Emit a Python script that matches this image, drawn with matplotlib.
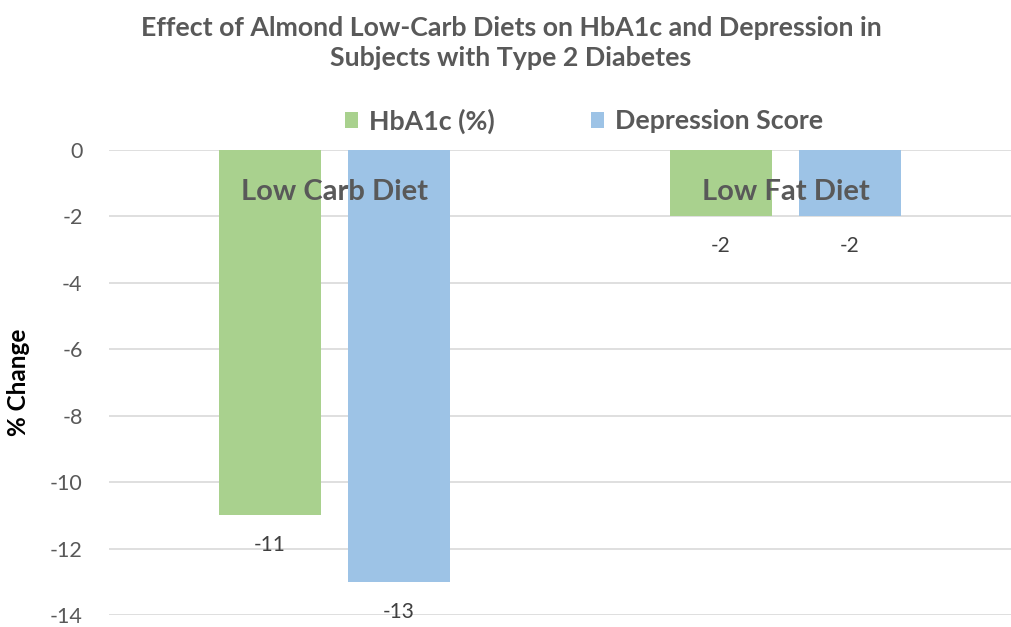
import matplotlib
matplotlib.use("Agg")
import matplotlib.pyplot as plt
import numpy as np

# Data
categories = ["Low Carb Diet", "Low Fat Diet"]
series_names = ["HbA1c (%)", "Depression Score"]
hba1c = [-11, -2]
depression = [-13, -2]
yticks = [0, -2, -4, -6, -8, -10, -12, -14]

plt.rcParams["font.family"] = ["Lato", "DejaVu Sans"]

fig = plt.figure(figsize=(10.12, 6.27), dpi=100)
ax = fig.add_axes([109 / 1012, 12 / 627, 902 / 1012, 465 / 627])

green = "#A9D18E"
blue = "#9DC3E6"
grey = "#595959"

x = np.arange(len(categories))
width = 0.224
offset = 0.143

b1 = ax.bar(x - offset, hba1c, width, color=green, label=series_names[0], zorder=2)
b2 = ax.bar(x + offset, depression, width, color=blue, label=series_names[1], zorder=2)

ax.set_xlim(-0.5, 1.5)
ax.set_ylim(-14, 0)
ax.set_yticks(yticks)
ax.set_yticklabels([str(t) for t in yticks], fontsize=15.5, color=grey)
ax.yaxis.grid(True, color="#D9D9D9", linewidth=1.2, zorder=0)
ax.set_axisbelow(True)
ax.tick_params(axis="y", length=0, pad=19)
ax.set_xticks([])
for s in ax.spines.values():
    s.set_visible(False)

# Category names drawn just under the zero line
for xi, name in zip(x, categories):
    ax.text(xi, -1.25, name, ha="center", va="center", fontsize=21,
            fontweight="bold", color=grey, zorder=3)

# Value labels below each bar end
for bars in (b1, b2):
    for rect in bars:
        v = rect.get_height()
        ax.annotate(f"{v:g}", (rect.get_x() + rect.get_width() / 2, v),
                    xytext=(0, -30), textcoords="offset pixels",
                    ha="center", va="center", fontsize=15, color="#404040")

ax.set_ylabel("% Change", fontsize=17.5, fontweight="bold", color="#000000")
ax.yaxis.set_label_coords(-0.088, 0.5)

fig.text(0.505, 0.932, "Effect of Almond Low-Carb Diets on HbA1c and Depression in\nSubjects with Type 2 Diabetes",
         ha="center", va="center", fontsize=19.3, fontweight="bold", color=grey, linespacing=1.3)

leg = fig.legend(handles=[b1, b2], labels=series_names, loc="center",
                 bbox_to_anchor=(0.577, 0.807), ncol=2, frameon=False,
                 prop={"size": 19.3, "weight": "bold"}, handlelength=0.5, handleheight=0.5,
                 columnspacing=3.6, handletextpad=0.4)
for t in leg.get_texts():
    t.set_color(grey)

fig.savefig("out.png", dpi=100)
